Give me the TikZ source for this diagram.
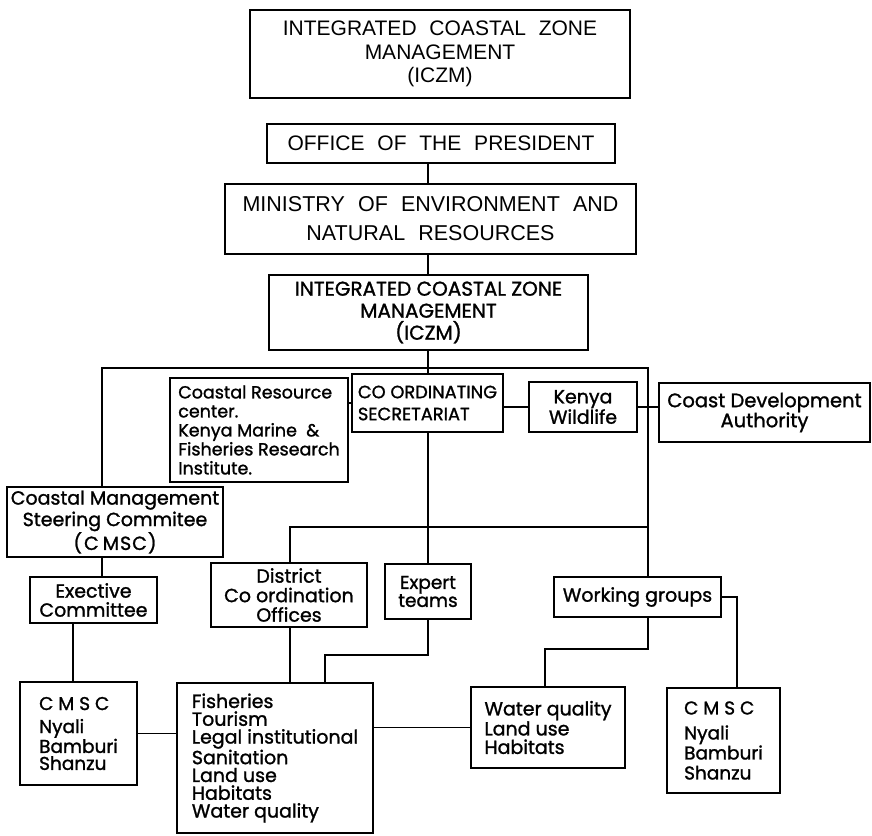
\documentclass[tikz,border=0pt]{standalone}
\usepackage{fontspec}
\setmainfont{Poppins}[FakeBold=1.3]
\newfontfamily\capsfont[WordSpace=2.2]{Liberation Sans}
\begin{document}
\begin{tikzpicture}[x=1pt,y=-1pt,
  box/.style={draw, line width=1.7pt, inner sep=0pt, font=\fontsize{19}{19}\selectfont},
  capbox/.style={box, align=center, font=\capsfont\fontsize{21}{23.5}\selectfont},
  conn/.style={line width=1.4pt}]
\useasboundingbox (0,0) rectangle (872,835);

% top levels
\node[capbox, minimum width=380pt, minimum height=88pt] (top) at (440,54) {INTEGRATED COASTAL ZONE\\MANAGEMENT\\(ICZM)};
\node[capbox, minimum width=348pt, minimum height=39pt] (office) at (441,143.5) {OFFICE OF THE PRESIDENT};
\node[capbox, minimum width=411pt, minimum height=70pt, font=\capsfont\fontsize{21.5}{29}\selectfont] (ministry) at (430.5,219) {MINISTRY OF ENVIRONMENT AND\\NATURAL RESOURCES};
\node[box, minimum width=319pt, minimum height=75pt, align=center, font=\fontsize{20}{22}\selectfont] (iczm) at (428.5,312.5) {INTEGRATED COASTAL ZONE\\MANAGEMENT\\(ICZM)};

% second level
\node[box, minimum width=178pt, minimum height=104pt, align=left, font=\fontsize{17.5}{19}\selectfont] (cres) at (259,430) {Coastal Resource\\center.\\Kenya Marine \ \&\\Fisheries Research\\Institute.};
\node[box, minimum width=151pt, minimum height=58pt, align=left, font=\fontsize{17.8}{22}\selectfont] (coord) at (427.5,403) {CO ORDINATING\\SECRETARIAT};
\node[box, minimum width=108pt, minimum height=50pt, align=center] (kenya) at (583,407) {Kenya\\Wildlife};
\node[box, minimum width=211pt, minimum height=59pt, align=center, font=\fontsize{19.5}{20}\selectfont] (coastdev) at (764.5,412.5) {Coast Development\\Authority};

% third level
\node[box, minimum width=216pt, minimum height=70pt, align=center, font=\fontsize{19}{21.5}\selectfont] (cmsc) at (115,522) {Coastal Management\\Steering Commitee\\(\hspace{2pt}C\hspace{4pt}M\hspace{1pt}S\hspace{1pt}C\hspace{1pt})};
\node[box, minimum width=127pt, minimum height=46pt, align=center] (exec) at (93.5,600) {Exective\\Committee};
\node[box, minimum width=156pt, minimum height=64pt, align=center, font=\fontsize{19}{19.5}\selectfont] (district) at (289,595) {District\\Co ordination\\Offices};
\node[box, minimum width=86pt, minimum height=55pt, align=center, font=\fontsize{18.5}{18}\selectfont] (expert) at (428,591.5) {Expert\\teams};
\node[box, minimum width=167pt, minimum height=40pt] (working) at (637.5,597) {Working groups};

% bottom level
\node[box, minimum width=117pt, minimum height=103pt, align=left, font=\fontsize{18.5}{17}\selectfont] (cmscL) at (78.5,733.5) {C M S C\\[6pt]Nyali\\Bamburi\\Shanzu};
\node[box, minimum width=196pt, minimum height=150pt, align=left, font=\fontsize{19}{17.8}\selectfont] (fish) at (275,758) {Fisheries\\Tourism\\Legal institutional\\Sanitation\\Land use\\Habitats\\Water quality};
\node[box, minimum width=154pt, minimum height=81pt, align=left, font=\fontsize{19}{18.5}\selectfont] (water) at (548,727.5) {Water quality\\Land use\\Habitats};
\node[box, minimum width=113pt, minimum height=105pt, align=left, font=\fontsize{18.5}{20}\selectfont] (cmscR) at (723.5,740.5) {C M S C\\[5pt]Nyali\\Bamburi\\Shanzu};

% helper coordinates
\coordinate (spine) at (428,0);
\coordinate (busL) at (102,368);
\coordinate (busR) at (648,368);
\coordinate (bus2L) at (290,527);
\coordinate (x73) at (73,0);
\coordinate (e1) at (325,655);
\coordinate (w1) at (545,649);
\coordinate (w2) at (737,597);

% connectors
\draw[conn] (office.south -| spine) -- (ministry.north -| spine);
\draw[conn] (ministry.south -| spine) -- (iczm.north -| spine);
\draw[conn] (iczm.south -| spine) -- (coord.north -| spine);
\draw[conn] (cmsc.north -| busL) -- (busL) -- (busR) -- (working.north -| busR);
\draw[conn] (coord.west) -- (coord.west -| cres.east);
\draw[conn] (kenya.west -| coord.east) -- (kenya.west);
\draw[conn] (kenya.east) -- (kenya.east -| coastdev.west);
\draw[conn] (coord.south -| spine) -- (expert.north -| spine);
\draw[conn] (district.north -| bus2L) -- (bus2L) -- (bus2L -| busR);
\draw[conn] (cmsc.south -| busL) -- (exec.north -| busL);
\draw[conn] (exec.south -| x73) -- (cmscL.north -| x73);
\draw[conn] (district.south -| bus2L) -- (fish.north -| bus2L);
\draw[conn] (expert.south -| spine) |- (e1) -- (e1 |- fish.north);
\draw[conn] (cmscL.east) -- (cmscL.east -| fish.west);
\draw[conn] (water.west -| fish.east) -- (water.west);
\draw[conn] (working.south -| busR) |- (w1) -- (w1 |- water.north);
\draw[conn] (working.east) -- (w2) -- (w2 |- cmscR.north);
\end{tikzpicture}
\end{document}
